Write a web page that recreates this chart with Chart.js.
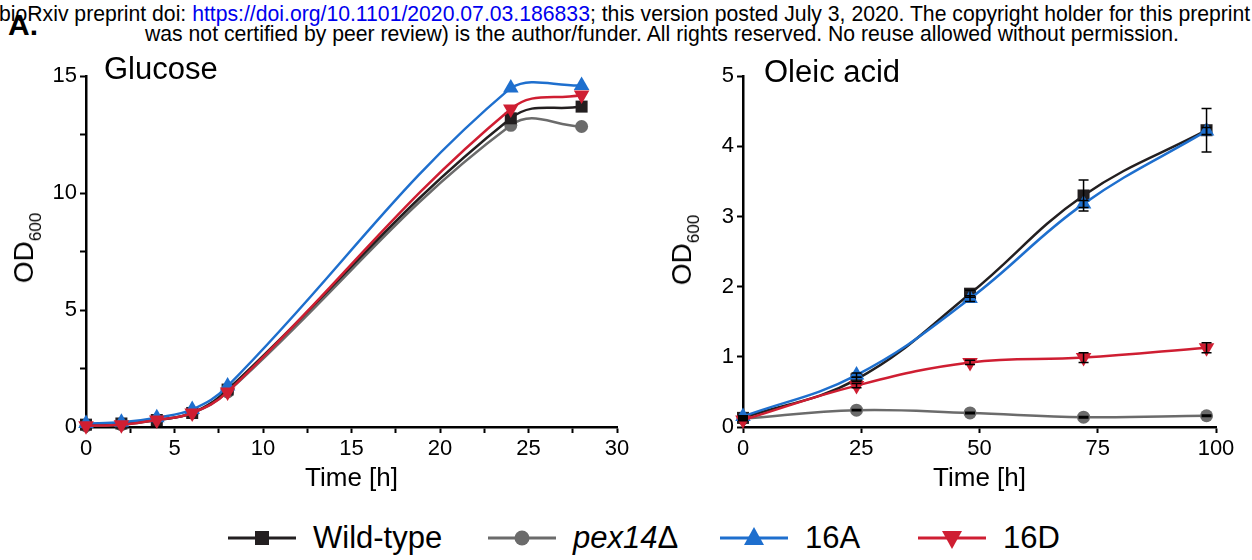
<!DOCTYPE html>
<html>
<head>
<meta charset="utf-8">
<script src="https://cdn.jsdelivr.net/npm/chart.js@4.4.1/dist/chart.umd.min.js"></script>
<style>
  body { margin: 0; width: 1252px; height: 560px; overflow: hidden; background: #fff;
         font-family: "Liberation Sans", Arial, sans-serif; position: relative; color: #000; }
  .abs { position: absolute; white-space: nowrap; }
  #hdr1 { left: -1px; top: 3px; font-size: 21.2px; line-height: 22px; }
  #hdr2 { left: 0; width: 1324px; top: 23px; font-size: 21.2px; line-height: 22px; text-align: center; }
  #panel { left: 8px; top: 10px; font-size: 30px; font-weight: bold; line-height: 30px; }
  .ttl { font-size: 31px; line-height: 31px; }
  .ytitle { font-size: 28px; line-height: 30px; transform: translate(-50%, -50%) rotate(-90deg); }
  .ytitle sub { font-size: 17px; vertical-align: -8px; }
  canvas { position: absolute; }
  .item { position: absolute; top: 520px; height: 36px; display: flex; align-items: center; font-size: 31px; }
  .item svg { margin-right: 17px; }
</style>
</head>
<body>
<div id="hdr1" class="abs">bioRxiv preprint doi: <span style="color:#0000ee">https://doi.org/10.1101/2020.07.03.186833</span>; this version posted July 3, 2020. The copyright holder for this preprint (which</div>
<div id="hdr2" class="abs">was not certified by peer review) is the author/funder. All rights reserved. No reuse allowed without permission.</div>
<div id="panel" class="abs">A.</div>

<canvas id="glucose" width="640" height="440" style="left:0;top:60px"></canvas>
<canvas id="oleic" width="602" height="440" style="left:650px;top:60px"></canvas>

<div class="abs ttl" style="left:104px;top:53px">Glucose</div>
<div class="abs ttl" style="left:764px;top:56px">Oleic acid</div>
<div class="abs ytitle" style="left:30px;top:248px">OD<sub>600</sub></div>
<div class="abs ytitle" style="left:688px;top:250px">OD<sub>600</sub></div>

<script>
// strains
const strainNames = ['Wild-type', 'pex14Δ', '16A', '16D'];
const strainColors = ['#231f20', '#6b6b6b', '#1e6fce', '#cf1e32'];
const strainMarkers = ['rect', 'circle', 'triangle', 'triangle'];
const markerRotation = [0, 0, 0, 180];

// glucose growth
const glucoseTime = [0, 2, 4, 6, 8, 24, 28];
const glucoseWT = [0.1, 0.15, 0.3, 0.6, 1.6, 13.2, 13.7];
const glucosePex14 = [0.05, 0.1, 0.3, 0.6, 1.5, 12.9, 12.85];
const glucose16A = [0.15, 0.2, 0.4, 0.75, 1.75, 14.5, 14.6];
const glucose16D = [0.05, 0.1, 0.3, 0.6, 1.5, 13.6, 14.2];

// oleic acid growth
const oleicTime = [0, 24, 48, 72, 98];
const oleicWT = [0.13, 0.68, 1.9, 3.3, 4.23];
const oleicPex14 = [0.12, 0.24, 0.2, 0.14, 0.16];
const oleic16A = [0.15, 0.74, 1.83, 3.18, 4.22];
const oleic16D = [0.1, 0.59, 0.92, 0.99, 1.13];
const oleicWTErr = [0.02, 0.03, 0.05, 0.22, 0.31];
const oleicPex14Err = [0.01, 0.01, 0.01, 0.01, 0.01];
const oleic16AErr = [0.01, 0.03, 0.04, 0.05, 0.05];
const oleic16DErr = [0.01, 0.03, 0.03, 0.07, 0.07];

Chart.defaults.font.family = '"Liberation Sans", Arial, sans-serif';
Chart.defaults.color = '#000';

// error bars drawn on top of the markers
const errorBars = {
    id: 'errorBars',
    afterDatasetsDraw(chart) {
        const ctx = chart.ctx;
        const xs = chart.scales.x, ys = chart.scales.y;
        ctx.save();
        ctx.strokeStyle = '#000';
        ctx.lineWidth = 1.5;
        chart.data.datasets.forEach(ds => {
            if (!ds.err) return;
            ds.data.forEach((p, i) => {
                const x = xs.getPixelForValue(p.x);
                const top = ys.getPixelForValue(p.y + ds.err[i]);
                const bot = ys.getPixelForValue(p.y - ds.err[i]);
                ctx.beginPath();
                ctx.moveTo(x, top); ctx.lineTo(x, bot);
                ctx.moveTo(x - 5, top); ctx.lineTo(x + 5, top);
                ctx.moveTo(x - 5, bot); ctx.lineTo(x + 5, bot);
                ctx.stroke();
            });
        });
        ctx.restore();
    }
};

function makeSets(time, series, errs) {
    const drawOrder = [2, 3, 1, 0];
    const sizes = [8.5, 6.5, 9, 9];
    return series.map((vals, i) => ({
        label: strainNames[i],
        data: time.map((t, j) => ({ x: t, y: vals[j] })),
        err: errs ? errs[i] : null,
        borderColor: strainColors[i],
        backgroundColor: strainColors[i],
        borderWidth: 2.5,
        pointStyle: strainMarkers[i],
        rotation: markerRotation[i],
        pointRadius: sizes[i],
        pointBorderWidth: 0,
        tension: 0.4,
        order: drawOrder[i],
        clip: false
    }));
}

function axis(max, step, labelEvery, fixedSize, isY) {
    return {
        type: 'linear',
        min: 0,
        max: max,
        border: { color: '#000', width: 2.5 },
        grid: { drawOnChartArea: false, drawTicks: true, tickLength: 6, tickColor: '#000', tickWidth: 2 },
        ticks: {
            stepSize: step,
            padding: 3,
            maxRotation: 0,
            autoSkip: false,
            font: { size: 22 },
            callback: v => (Math.abs(v / labelEvery - Math.round(v / labelEvery)) < 1e-6 ? v : '')
        },
        title: isY ? { display: false } : { display: true, text: 'Time [h]', font: { size: 26 }, padding: { top: 0, bottom: 6 } },
        afterFit(scale) {
            if (isY) scale.width = fixedSize; else scale.height = fixedSize;
        }
    };
}

function renderChart(id, datasets, xAxis, yAxis, padRight) {
    new Chart(document.getElementById(id), {
        type: 'line',
        data: { datasets: datasets },
        options: {
            responsive: false,
            animation: false,
            layout: { padding: { top: 13, right: padRight, left: 0, bottom: 0 } },
            scales: { x: xAxis, y: yAxis },
            plugins: { legend: { display: false }, tooltip: { enabled: false } }
        },
        plugins: [errorBars]
    });
}

renderChart('glucose',
    makeSets(glucoseTime, [glucoseWT, glucosePex14, glucose16A, glucose16D]),
    axis(30, 2.5, 5, 73, false), axis(15, 2.5, 5, 86, true), 23);

renderChart('oleic',
    makeSets(oleicTime, [oleicWT, oleicPex14, oleic16A, oleic16D],
        [oleicWTErr, oleicPex14Err, oleic16AErr, oleic16DErr]),
    axis(100, 25, 25, 73, false), axis(5, 1, 1, 93, true), 36);

// legend, one entry per strain
const legendLeft = [228, 488, 720, 918];
strainNames.forEach((name, i) => {
    const c = strainColors[i];
    let mark;
    if (strainMarkers[i] === 'rect') mark = `<rect x="27" y="11" width="14" height="14" fill="${c}"/>`;
    else if (strainMarkers[i] === 'circle') mark = `<circle cx="34" cy="18" r="7.5" fill="${c}"/>`;
    else if (markerRotation[i] === 0) mark = `<polygon points="34,7 44,25 24,25" fill="${c}"/>`;
    else mark = `<polygon points="34,29 44,11 24,11" fill="${c}"/>`;
    const label = name === 'pex14Δ' ? '<i>pex14</i>Δ' : name;
    const item = document.createElement('div');
    item.className = 'item';
    item.style.left = legendLeft[i] + 'px';
    item.innerHTML = `<svg width="68" height="36"><line x1="0" y1="18" x2="68" y2="18" stroke="${c}" stroke-width="3"/>${mark}</svg><span>${label}</span>`;
    document.body.appendChild(item);
});
</script>
</body>
</html>
